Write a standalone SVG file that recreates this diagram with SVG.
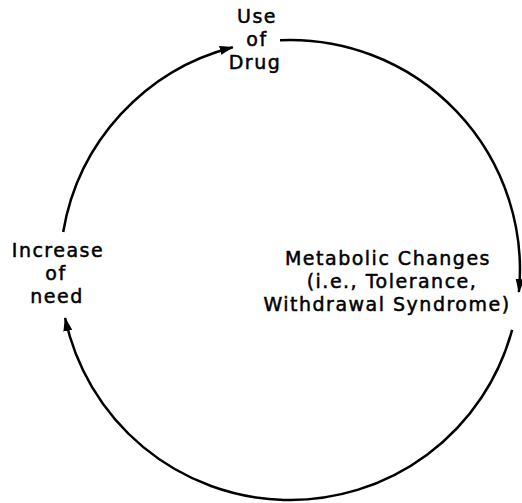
<svg xmlns="http://www.w3.org/2000/svg" width="522" height="503" viewBox="0 0 522 503">
  <style>
    .lbl { font-family: "DejaVu Sans", "Verdana", sans-serif; font-size: 19px; letter-spacing: 1.5px; fill: #000; stroke: #000; stroke-width: 0.5px; text-anchor: middle; }
    .arc { fill: none; stroke: #000; stroke-width: 2.5; }
  </style>
  <defs>
    <marker id="arrow" markerUnits="userSpaceOnUse" markerWidth="15" markerHeight="10" refX="13" refY="5" orient="auto">
      <path d="M0,0.5 L14,5 L0,9.5 Z" fill="#000"/>
    </marker>
  </defs>
  <rect width="522" height="503" fill="#fff"/>
  <g id="connectors">
    <path class="arc" d="M63.2,232 A230,230 0 0 1 232.8,47.2" marker-end="url(#arrow)"/>
    <path class="arc" d="M280,40.2 A230,230 0 0 1 518.9,292" marker-end="url(#arrow)"/>
    <path class="arc" d="M512.1,329.9 A230,230 0 0 1 65.1,318" marker-end="url(#arrow)"/>
  </g>
  <g id="node-use-of-drug">
    <text class="lbl" x="257" y="23">Use</text>
    <text class="lbl" x="257" y="46">of</text>
    <text class="lbl" x="255" y="69">Drug</text>
  </g>
  <g id="node-metabolic-changes">
    <text class="lbl" x="388" y="265">Metabolic Changes</text>
    <text class="lbl" x="392" y="288">(i.e., Tolerance,</text>
    <text class="lbl" x="387" y="311">Withdrawal Syndrome)</text>
  </g>
  <g id="node-increase-of-need">
    <text class="lbl" x="58" y="257">Increase</text>
    <text class="lbl" x="56" y="280">of</text>
    <text class="lbl" x="57" y="303">need</text>
  </g>
</svg>
